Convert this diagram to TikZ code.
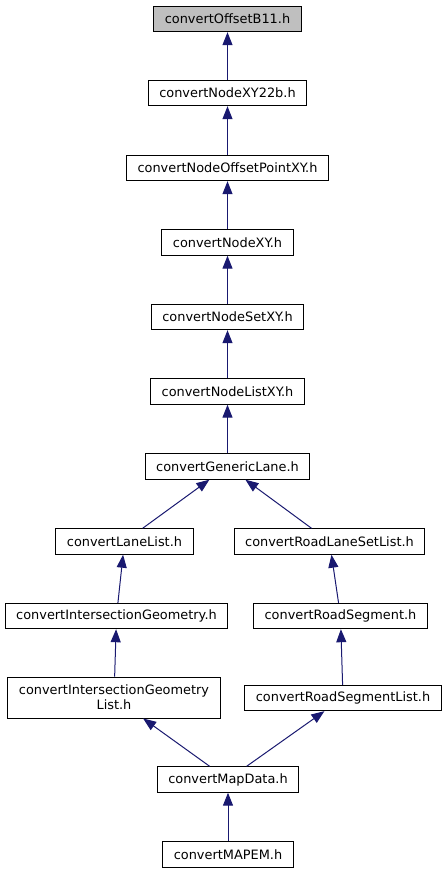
\documentclass[tikz,border=0pt]{standalone}
\usepackage{fontspec}
\setmainfont{DejaVu Sans}
\usetikzlibrary{arrows.meta,positioning}
\definecolor{depblue}{HTML}{191970}
\definecolor{rootgray}{HTML}{BFBFBF}

\begin{document}
\begin{tikzpicture}[x=1pt,y=-1pt,->,>={Triangle[length=13pt,width=10pt]},
		every edge/.style={draw=depblue,line width=1pt},
		file/.style={draw,line width=0.9pt,rectangle,inner xsep=11pt,inner ysep=5pt,minimum height=25.5pt,font=\fontsize{12.9pt}{15pt}\selectfont}]
		\useasboundingbox (0,0) rectangle (447,873);
		% nodes
		\node[file,fill=rootgray] (1) at (227.5,19) {convertOffsetB11.h};
		\node[file] (2) at (227.5,93) {convertNodeXY22b.h};
		\node[file] (3) at (227.5,168) {convertNodeOffsetPointXY.h};
		\node[file] (4) at (227.5,242.5) {convertNodeXY.h};
		\node[file] (5) at (227.5,317) {convertNodeSetXY.h};
		\node[file] (6) at (227.5,391.5) {convertNodeListXY.h};
		\node[file] (7) at (227.5,466.5) {convertGenericLane.h};
		\node[file] (8) at (124.5,541.5) {convertLaneList.h};
		\node[file] (9) at (329.5,541.5) {convertRoadLaneSetList.h};
		\node[file] (10) at (116.5,616) {convertIntersectionGeometry.h};
		\node[file] (11) at (340.5,616) {convertRoadSegment.h};
		\node[file,align=center,minimum height=41pt] (12) at (114,697.5) {convertIntersectionGeometry\\List.h};
		\node[file] (13) at (343,698) {convertRoadSegmentList.h};
		\node[file] (14) at (228,779.5) {convertMapData.h};
		\node[file] (15) at (228,854.5) {convertMAPEM.h};

		\path (2) edge (1)
				(3) edge (2)
				(4) edge (3)
				(5) edge (4)
				(6) edge (5)
				(7) edge (6);
		\path (8) edge (7)
				(10) edge (8)
				(12) edge (10)
				(14) edge (12);
		\path (9) edge (7)
				(11) edge (9)
				(13) edge (11)
				(14) edge (13);
		\path (15) edge (14);
\end{tikzpicture}
\end{document}
